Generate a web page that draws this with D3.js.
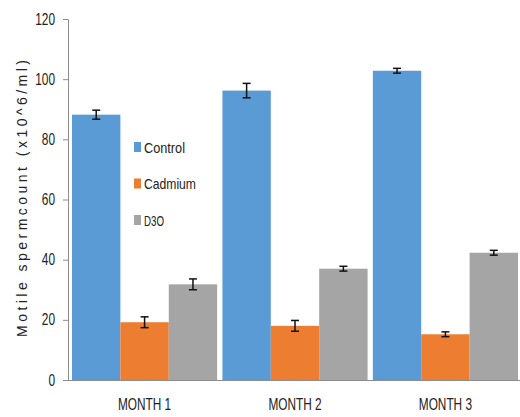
<!DOCTYPE html>
<html>
<head>
<meta charset="utf-8">
<script src="https://cdn.jsdelivr.net/npm/d3@7"></script>
<style>
  html, body { margin: 0; padding: 0; background: #fff; }
  svg { display: block; }
  text { font-family: "Liberation Sans", Arial, sans-serif; }
</style>
</head>
<body>
<svg id="chart" width="520" height="417"></svg>
<script>
// Motile sperm count per month for each treatment group (mean ± error)
const months = ["MONTH 1", "MONTH 2", "MONTH 3"];
const seriesNames = ["Control", "Cadmium", "D3O"];
const controlValues = [88.2, 96.2, 102.8];
const cadmiumValues = [19.2, 18.0, 15.2];
const d30Values = [31.8, 37.0, 42.3];
const controlErrors = [1.5, 2.4, 0.8];
const cadmiumErrors = [1.8, 1.8, 0.8];
const d30Errors = [1.8, 0.8, 0.8];
const yTicks = [0, 20, 40, 60, 80, 100, 120];
const seriesColors = ["#5B9BD5", "#ED7D31", "#A5A5A5"];

const valuesBySeries = [controlValues, cadmiumValues, d30Values];
const errorsBySeries = [controlErrors, cadmiumErrors, d30Errors];

const svg = d3.select("#chart");
const plotLeft = 68, plotRight = 521, plotTop = 19, plotBottom = 380;

const y = d3.scaleLinear().domain([0, 120]).range([plotBottom, plotTop]);
const x0 = d3.scaleBand().domain(months).range([plotLeft + 1, plotRight])
  .paddingInner(0.035).paddingOuter(0.02);
const x1 = d3.scaleBand().domain(seriesNames).range([0, x0.bandwidth()]);

// Condensed look for labels: squeeze glyphs horizontally
function condense(sel, perChar) {
  sel.each(function () {
    const t = d3.select(this);
    t.attr("textLength", t.text().length * perChar).attr("lengthAdjust", "spacingAndGlyphs");
  });
}

// Bars
const rows = months.map((m, i) => ({
  month: m,
  items: seriesNames.map((s, j) => ({
    series: s, value: valuesBySeries[j][i], err: errorsBySeries[j][i], color: seriesColors[j]
  }))
}));

const groups = svg.append("g").selectAll("g").data(rows).join("g")
  .attr("transform", d => `translate(${x0(d.month)},0)`);

groups.selectAll("rect").data(d => d.items).join("rect")
  .attr("x", d => x1(d.series))
  .attr("y", d => y(d.value))
  .attr("width", x1.bandwidth())
  .attr("height", d => y(0) - y(d.value))
  .attr("fill", d => d.color);

// Error bars
const eb = groups.selectAll("g.err").data(d => d.items).join("g").attr("class", "err")
  .attr("transform", d => `translate(${x1(d.series) + x1.bandwidth() / 2},0)`)
  .attr("stroke", "#111").attr("stroke-width", 1.5);
eb.append("line").attr("y1", d => y(d.value + d.err)).attr("y2", d => y(d.value - d.err));
eb.append("line").attr("x1", -4).attr("x2", 4)
  .attr("y1", d => y(d.value + d.err)).attr("y2", d => y(d.value + d.err));
eb.append("line").attr("x1", -4).attr("x2", 4)
  .attr("y1", d => y(d.value - d.err)).attr("y2", d => y(d.value - d.err));

// Y axis
const yAxis = svg.append("g").attr("transform", `translate(${plotLeft},0)`)
  .call(d3.axisLeft(y).tickValues(yTicks).tickSize(5).tickPadding(8).tickSizeOuter(0));
yAxis.select(".domain").attr("stroke", "#8c8c8c");
yAxis.selectAll(".tick line").attr("stroke", "#8c8c8c");
yAxis.selectAll(".tick text").attr("font-size", 16).attr("fill", "#222")
  .call(condense, 6.6);

// X axis baseline
const xAxis = svg.append("g").attr("transform", `translate(0,${plotBottom})`)
  .call(d3.axisBottom(x0).tickSize(0).tickPadding(19));
xAxis.select(".domain").attr("stroke", "#8c8c8c").attr("d", `M63,0.5H${plotRight}`);
xAxis.selectAll(".tick text").attr("font-size", 16).attr("fill", "#222")
  .call(condense, 7.6);

// Y axis title
svg.append("text")
  .attr("transform", `translate(27,${(337 + 60) / 2}) rotate(-90)`)
  .attr("text-anchor", "middle")
  .attr("font-size", 14)
  .attr("font-weight", 500)
  .attr("fill", "#222")
  .attr("textLength", 277)
  .attr("lengthAdjust", "spacing")
  .text("Motile spermcount (x10^6/ml)");

// Legend (squeezed to a condensed width per entry)
const legendWidths = [41, 52, 20];
const legend = svg.append("g").selectAll("g").data(seriesNames).join("g")
  .attr("transform", (d, i) => `translate(134,${147 + i * 36.5})`);
legend.append("rect").attr("x", 0).attr("y", -5).attr("width", 7).attr("height", 10)
  .attr("fill", (d, i) => seriesColors[i]);
legend.append("text").attr("x", 10).attr("y", 5.5)
  .attr("font-size", 15).attr("fill", "#222").text(d => d)
  .attr("textLength", (d, i) => legendWidths[i])
  .attr("lengthAdjust", "spacingAndGlyphs");
</script>
</body>
</html>
